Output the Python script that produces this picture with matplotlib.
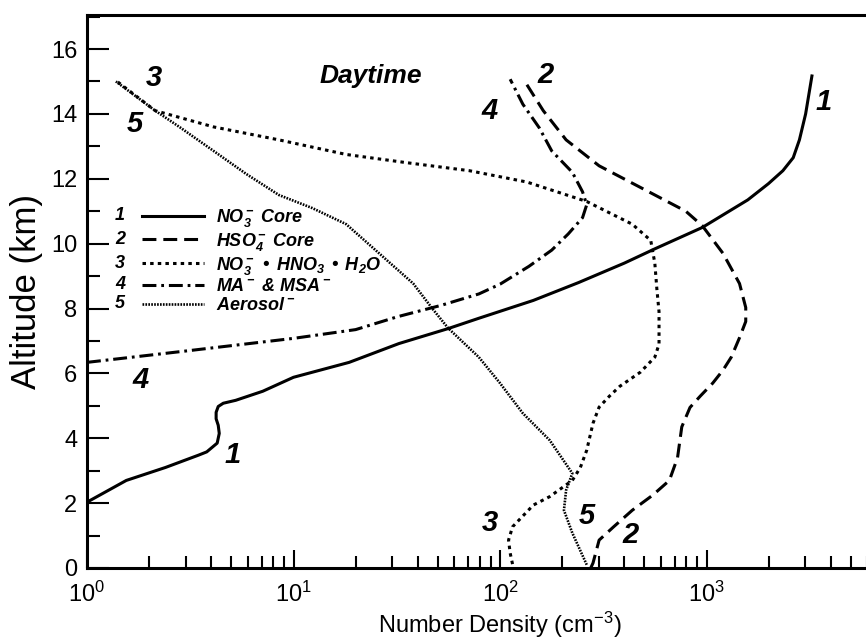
import numpy as np
import matplotlib
matplotlib.use('Agg')
import matplotlib.pyplot as plt
from matplotlib.lines import Line2D
from matplotlib.text import Text
from matplotlib.legend_handler import HandlerBase
from matplotlib.ticker import MultipleLocator, NullFormatter

matplotlib.rcParams['font.family'] = ['Liberation Sans', 'DejaVu Sans']
matplotlib.rcParams['mathtext.default'] = 'regular'
matplotlib.rcParams['lines.scale_dashes'] = False

# 1: NO3- core (solid)
alt_1 = [2.03, 2.7, 3.1, 3.48, 3.58, 3.85, 4.15, 4.4, 4.6, 4.8, 4.98, 5.08, 5.17, 5.45,
         5.88, 6.34, 6.92, 7.38, 7.7, 8.25, 8.8, 9.4, 9.84, 10.5, 11.35, 11.85, 12.25,
         12.65, 13.2, 14.0, 15.17]
dens_1 = [1.0, 1.55, 2.4, 3.47, 3.8, 4.27, 4.37, 4.32, 4.22, 4.22, 4.32, 4.57, 5.25, 7.1,
          10, 18.6, 32.4, 56, 79, 145, 240, 400, 562, 955, 1585, 1995, 2344,
          2630, 2818, 3020, 3240]

# 2: HSO4- core (dashed)
alt_2 = [0.0, 0.15, 0.86, 1.27, 1.78, 2.25, 2.7, 3.4, 4.35, 4.95, 5.3, 5.7, 6.1, 6.5, 7.1,
         7.6, 8.03, 8.77, 9.7, 10.55, 11.0, 11.6, 12.4, 13.2, 14.1, 14.9]
dens_2 = [275, 282, 302, 355, 437, 550, 661, 724, 759, 832, 933, 1072, 1202, 1318, 1445,
          1549, 1549, 1445, 1202, 955, 794, 525, 302, 209, 162, 135]

# 3: NO3- . HNO3 . H2O (short dashes)
alt_3 = [0.12, 0.46, 0.86, 1.27, 1.94, 2.2, 2.7, 3.1, 3.63, 4.46, 4.96, 5.3, 5.6, 6.04, 6.5,
         6.9, 7.9, 8.6, 9.4, 10.1, 10.6, 11.3, 11.9, 12.25, 12.5, 12.75, 13.2, 13.6, 14.1, 15.0]
dens_3 = [115, 112, 110, 115, 145, 174, 224, 245, 263, 282, 302, 339, 380, 479, 562,
          589, 589, 575, 562, 537, 437, 263, 135, 71, 35, 18, 8.5, 4.1, 2.14, 1.4]

# 4: MA- & MSA- (dash-dot)
alt_4 = [6.34, 6.7, 7.08, 7.35, 7.75, 8.1, 8.45, 8.75, 9.3, 9.8, 10.3, 10.8, 11.2, 11.6,
         12.2, 12.86, 13.57, 14.3, 15.07]
dens_4 = [1.0, 3.1, 10, 20, 32, 52, 79, 100, 138, 178, 214, 251, 263, 251,
          224, 178, 155, 129, 112]

# 5: Aerosol- (fine dots)
alt_5 = [0.1, 1.08, 1.78, 2.4, 2.92, 3.94, 4.77, 5.7, 6.5, 7.4, 8.0, 8.77, 9.7, 10.6, 11.1,
         11.5, 12.15, 12.86, 13.6, 14.1, 15.0]
dens_5 = [263, 224, 204, 209, 224, 174, 129, 100, 79, 56, 47, 38, 26, 18, 12.3,
          8.5, 5.9, 4.1, 2.8, 2.14, 1.38]

legend_nums = ['1', '2', '3', '4', '5']
legend_labels = ['NO$_3^-$ Core', 'HSO$_4^-$ Core', 'NO$_3^-$ \u2022 HNO$_3$ \u2022 H$_2$O',
                 'MA$^-$ & MSA$^-$', 'Aerosol$^-$']

# curve number labels (text, density, altitude)
curve_tags = [('3', 2.11, 15.1), ('5', 1.7, 13.7), ('2', 166, 15.2), ('4', 89, 14.1),
              ('1', 3700, 14.37), ('4', 1.82, 5.8), ('1', 5.1, 3.48), ('3', 89, 1.38),
              ('5', 263, 1.6), ('2', 427, 1.02)]

x_ticks = [1, 10, 100, 1000]


class NumberedLine(HandlerBase):
    def __init__(self, num):
        super().__init__()
        self.num = num

    def create_artists(self, legend, orig_handle, xdescent, ydescent, width, height, fontsize, trans):
        y = height / 2 - ydescent
        x0 = -xdescent
        line = Line2D([x0 + 1.5 * fontsize, x0 + width], [y, y])
        self.update_prop(line, orig_handle, legend)
        line.set_transform(trans)
        num = Text(x0, y, self.num, ha='left', va='center', fontsize=fontsize,
                   fontweight='bold', fontstyle='italic')
        num.set_transform(trans)
        return [line, num]


fig = plt.figure(figsize=(8.66, 6.41), dpi=100)
ax = fig.add_axes([87/866, 73/641, 826/866, 553/641])

l1, = ax.plot(dens_1, alt_1, color='black', lw=2.2)
l2, = ax.plot(dens_2, alt_2, color='black', lw=2.2, dashes=(10, 5))
l3, = ax.plot(dens_3, alt_3, color='black', lw=2.2, dashes=(2.5, 3))
l4, = ax.plot(dens_4, alt_4, color='black', lw=2.2, dashes=(10, 3.5, 2, 3.5))
l5, = ax.plot(dens_5, alt_5, color='black', lw=1.9, dashes=(1.2, 0.9))

for t, x, y in curve_tags:
    ax.text(x, y, t, fontsize=21, fontweight='bold', fontstyle='italic', ha='center', va='center')

ax.text(13.3, 14.95, 'Daytime', fontsize=19, fontweight='bold', fontstyle='italic',
        ha='left', va='baseline')

lines = [l1, l2, l3, l4, l5]
ax.legend(handles=lines, labels=legend_labels,
          handler_map={l: NumberedLine(n) for l, n in zip(lines, legend_nums)},
          loc='upper left', bbox_to_anchor=(0.034, 0.653), frameon=False,
          borderpad=0, borderaxespad=0, handlelength=4.9, handletextpad=0.67,
          labelspacing=0.1, prop={'size': 13, 'weight': 'bold', 'style': 'italic'})

ax.set_xscale('log')
ax.set_xlim(1, 1e4)
ax.set_xticks(x_ticks)
ax.set_ylim(0, 17.05)
ax.yaxis.set_major_locator(MultipleLocator(2))
ax.yaxis.set_minor_locator(MultipleLocator(1))
ax.xaxis.set_minor_formatter(NullFormatter())
ax.tick_params(which='both', direction='in', width=1.5, labelsize=17)
ax.tick_params(axis='x', which='major', length=13, pad=10)
ax.tick_params(axis='x', which='minor', length=8.5)
ax.tick_params(axis='y', which='major', length=15.8, pad=7)
ax.tick_params(axis='y', which='minor', length=9.4)
for s in ax.spines.values():
    s.set_linewidth(2.2)

ax.set_xlabel('Number Density (cm$^{-3}$)', fontsize=17, labelpad=2)
ax.set_ylabel('Altitude (km)', fontsize=25, labelpad=6)

fig.savefig('out.png', dpi=100)
